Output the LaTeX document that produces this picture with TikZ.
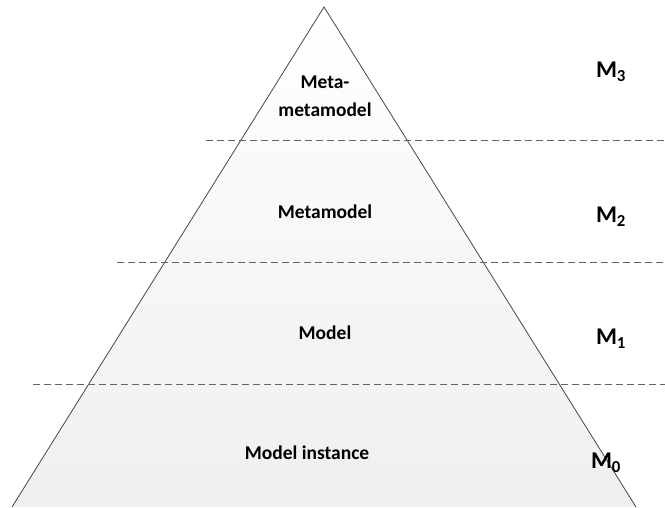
\documentclass[tikz,border=0pt]{standalone}
\usepackage{fontspec}
\setmainfont{Carlito}
\begin{document}
\begin{tikzpicture}[x=1pt,y=-1pt,
  layertext/.style={font=\bfseries\fontsize{19.5}{28}\selectfont, align=center, inner sep=0pt},
  levellabel/.style={font=\bfseries\fontsize{24}{26}\selectfont, inner sep=0pt},
  divider/.style={draw={rgb,255:red,100;green,100;blue,100}, line width=1pt, dash pattern=on 7pt off 4pt}]
  \useasboundingbox (0,0) rectangle (665,507);
  % pyramid outline
  \coordinate (apex) at (324,7);
  \coordinate (bl) at (12,507);
  \coordinate (br) at (636,507);
  \shade[top color=white, bottom color={rgb,255:red,239;green,239;blue,239}]
    (apex) -- (bl) -- (br) -- cycle;
  \draw[line width=0.8pt, draw={rgb,255:red,70;green,70;blue,70}] (bl) -- (apex) -- (br);
  % layer boundaries
  \coordinate (d1a) at (206,140); \coordinate (d1b) at (665,140);
  \coordinate (d2a) at (117,262); \coordinate (d2b) at (665,262);
  \coordinate (d3a) at (33,384);  \coordinate (d3b) at (665,384);
  \draw[divider] (d1a) -- (d1b);
  \draw[divider] (d2a) -- (d2b);
  \draw[divider] (d3a) -- (d3b);
  % layer names
  \node[layertext] (mmm) at (325,96) {Meta-\\metamodel};
  \node[layertext] (mm) at (325,212) {Metamodel};
  \node[layertext] (m) at (325,333) {Model};
  \node[layertext] (mi) at (307,453) {Model instance};
  % level labels
  \node[levellabel] (l3) at (611,72) {M\textsubscript{3}};
  \node[levellabel] (l2) at (611,217) {M\textsubscript{2}};
  \node[levellabel] (l1) at (611,339) {M\textsubscript{1}};
  \node[levellabel] (l0) at (606,463) {M\textsubscript{0}};
\end{tikzpicture}
\end{document}
